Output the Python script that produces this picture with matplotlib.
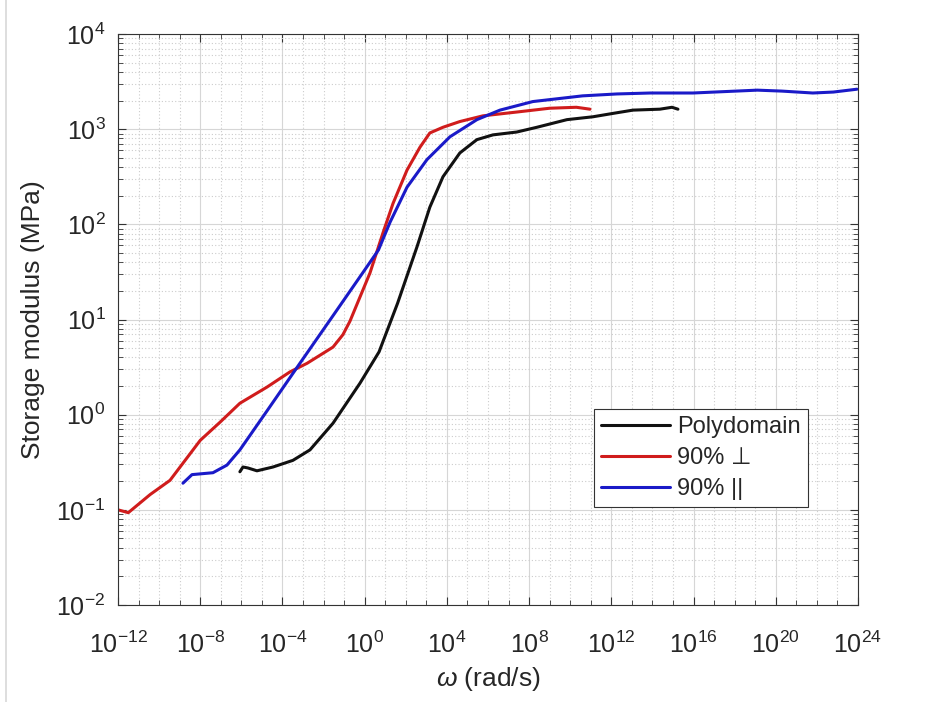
import numpy as np
import matplotlib.pyplot as plt
from matplotlib.ticker import LogLocator, NullFormatter
from matplotlib.lines import Line2D

plt.rcParams['font.family'] = ['Liberation Sans', 'DejaVu Sans']
plt.rcParams['mathtext.fontset'] = 'custom'
plt.rcParams['mathtext.rm'] = 'Liberation Sans'
plt.rcParams['mathtext.it'] = 'Liberation Sans:italic'

TEXT = '#262626'

# Master curves, log10(omega [rad/s]) vs log10(E' [MPa])
poly_logw = [-6.07, -5.92, -5.68, -5.24, -4.46, -3.49, -2.66, -1.54, -0.23, 0.7,
             1.6, 2.54, 3.17, 3.81, 4.63, 5.46, 6.24, 7.4, 8.38, 9.84,
             11.1, 12.2, 13.05, 14.36, 14.95, 15.24]
poly_logE = [-0.6, -0.55, -0.56, -0.59, -0.55, -0.48, -0.37, -0.09, 0.33, 0.66,
             1.17, 1.76, 2.18, 2.5, 2.75, 2.89, 2.94, 2.97, 3.02, 3.1,
             3.13, 3.17, 3.2, 3.21, 3.23, 3.21]

perp_logw = [-12.0, -11.5, -10.44, -9.47, -8.84, -8.0, -7.04, -6.07, -4.75, -3.63,
             -2.8, -1.54, -1.06, -0.72, 0.26, 0.89, 1.38, 2.06, 2.69, 3.17,
             3.81, 4.63, 5.75, 7.4, 9.0, 10.3, 10.96]
perp_logE = [-1.0, -1.03, -0.84, -0.69, -0.51, -0.27, -0.08, 0.12, 0.29, 0.45,
             0.54, 0.71, 0.84, 0.98, 1.49, 1.91, 2.22, 2.57, 2.81, 2.96,
             3.02, 3.08, 3.14, 3.18, 3.22, 3.23, 3.21]

para_logw = [-8.84, -8.4, -7.38, -6.7, -6.07, -4.75, -3.15, -1.54, 0.0, 0.67,
             1.23, 2.06, 3.03, 4.15, 5.46, 6.58, 8.18, 10.6, 12.27, 13.9,
             15.97, 19.1, 20.3, 21.8, 22.8, 23.95]
para_logE = [-0.72, -0.63, -0.61, -0.53, -0.37, 0.04, 0.54, 1.04, 1.52, 1.73,
             2.02, 2.39, 2.68, 2.92, 3.1, 3.2, 3.29, 3.35, 3.37, 3.38,
             3.38, 3.41, 3.4, 3.38, 3.39, 3.42]

series = [
    ('Polydomain', poly_logw, poly_logE, '#111111'),
    ('90% \u22a5', perp_logw, perp_logE, '#d01c1c'),
    ('90% ||', para_logw, para_logE, '#1a1ac8'),
]

fig = plt.figure(figsize=(9.43, 7.02), dpi=100)
ax = fig.add_axes([118 / 943, 1 - 605 / 702, 740 / 943, 571 / 702])

for label, lw, le, color in series:
    ax.plot(10.0 ** np.array(lw), 10.0 ** np.array(le), color=color,
            linewidth=2.2, label=label, solid_capstyle='round')

ax.set_xscale('log')
ax.set_yscale('log')
ax.set_xlim(1e-12, 1e24)
ax.set_ylim(1e-2, 1e4)

ax.xaxis.set_major_locator(LogLocator(base=10000.0, numticks=20))
ax.xaxis.set_minor_locator(LogLocator(base=10.0, subs=(1.0,), numticks=60))
ax.xaxis.set_minor_formatter(NullFormatter())
ax.yaxis.set_major_locator(LogLocator(base=10.0, numticks=20))
ax.yaxis.set_minor_locator(LogLocator(base=10.0, subs=np.arange(2, 10), numticks=60))
ax.yaxis.set_minor_formatter(NullFormatter())

ax.grid(True, which='major', color='#d6d6d6', linewidth=0.8, linestyle='-')
ax.grid(True, which='minor', color='#cccccc', linewidth=0.8, linestyle=(0, (1, 2)))
ax.set_axisbelow(True)

ax.tick_params(which='both', direction='in', top=True, right=True,
               colors='#333333', labelcolor=TEXT)
ax.tick_params(which='major', length=6, width=0.8, labelsize=18)
ax.tick_params(axis='x', which='major', pad=19)
ax.tick_params(axis='y', which='major', pad=9)
ax.tick_params(which='minor', length=3.5, width=0.6)
for sp in ax.spines.values():
    sp.set_color('#333333')
    sp.set_linewidth(0.8)

ax.set_xlabel(r'$\it{\omega}$ (rad/s)', fontsize=19, color=TEXT, labelpad=5)
ax.set_ylabel('Storage modulus (MPa)', fontsize=19, color=TEXT, labelpad=8)

leg = ax.legend(loc='lower right', bbox_to_anchor=(0.932, 0.1716), fontsize=17,
                fancybox=False, framealpha=1, edgecolor='#333333',
                handlelength=2.9, handletextpad=0.3, borderpad=0.3,
                labelspacing=0.37, borderaxespad=0)
leg.get_frame().set_linewidth(0.8)
for t in leg.get_texts():
    t.set_color(TEXT)

fig.add_artist(Line2D([6 / 943, 6 / 943], [0, 1], color='#d8d8d8', linewidth=1.2))

fig.savefig('out.png', dpi=100, facecolor='white')
